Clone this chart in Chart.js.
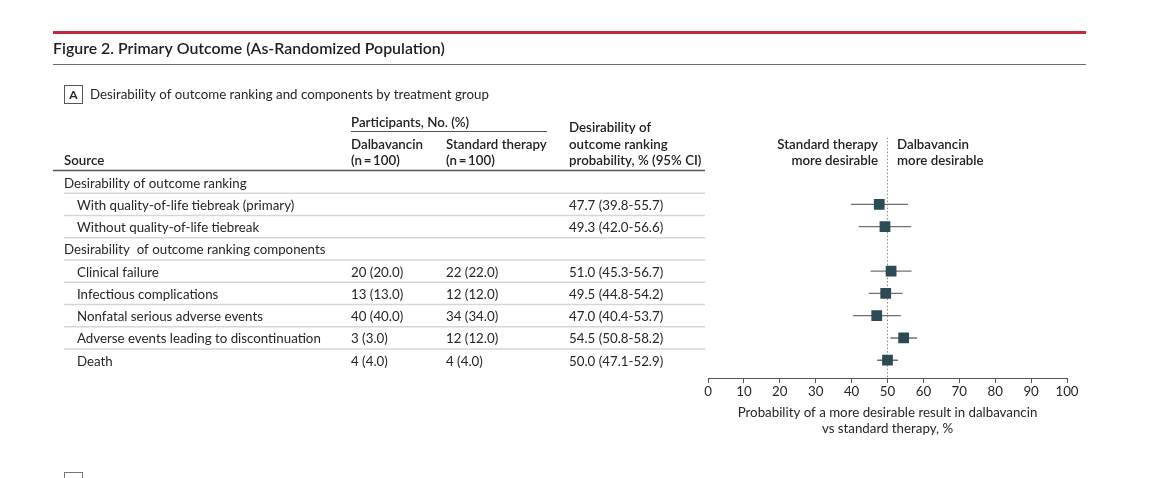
<!DOCTYPE html>
<html>
<head>
<meta charset="utf-8">
<script src="https://cdn.jsdelivr.net/npm/chart.js@4/dist/chart.umd.min.js"></script>
<style>
html,body{margin:0;padding:0;background:#fff;}
#wrap{width:1170px;height:478px;}
</style>
</head>
<body>
<div id="wrap"><canvas id="c" width="1170" height="478"></canvas></div>
<script>
// ---------- data ----------
const rowLabels = [
  'Desirability of outcome ranking',
  'With quality-of-life tiebreak (primary)',
  'Without quality-of-life tiebreak',
  'Desirability  of outcome ranking components',
  'Clinical failure',
  'Infectious complications',
  'Nonfatal serious adverse events',
  'Adverse events leading to discontinuation',
  'Death'
];
const rowIsGroup = [true, false, false, true, false, false, false, false, false];
const dalbavancinN   = [null, null, null, null, 20, 13, 40, 3, 4];
const dalbavancinPct = [null, null, null, null, 20.0, 13.0, 40.0, 3.0, 4.0];
const standardN      = [null, null, null, null, 22, 12, 34, 12, 4];
const standardPct    = [null, null, null, null, 22.0, 12.0, 34.0, 12.0, 4.0];
const estimates = [null, 47.7, 49.3, null, 51.0, 49.5, 47.0, 54.5, 50.0];
const ciLow     = [null, 39.8, 42.0, null, 45.3, 44.8, 40.4, 50.8, 47.1];
const ciHigh    = [null, 55.7, 56.6, null, 56.7, 54.2, 53.7, 58.2, 52.9];
const xTickValues = [0, 10, 20, 30, 40, 50, 60, 70, 80, 90, 100];
const referenceValue = 50;

// ---------- styles ----------
const FONT = 'Lato, "Noto Sans", sans-serif';
const TEXT = '#262626';
const MARKER = '#2c4b55';
const WHISKER = '#707070';
const BODY = 13.3;

Chart.defaults.font.family = FONT;
Chart.defaults.color = TEXT;

const datasets = [];
datasets.push({
  label: 'estimate',
  data: estimates.map((v, i) => v == null ? null : {x: v, y: i}).filter(Boolean),
  showLine: false,
  pointStyle: 'rect',
  pointRadius: 7.6,
  backgroundColor: MARKER,
  borderColor: MARKER,
  borderWidth: 0,
  order: 0
});
estimates.forEach((v, i) => {
  if (v == null) return;
  datasets.push({
    label: 'ci' + i,
    data: [{x: ciLow[i], y: i}, {x: ciHigh[i], y: i}],
    borderColor: WHISKER,
    borderWidth: 1.4,
    pointRadius: 0,
    order: 1
  });
});
datasets.push({
  label: 'reference',
  data: [{x: referenceValue, y: -2}, {x: referenceValue, y: 8.8}],
  borderColor: '#8a8a8a',
  borderWidth: 1,
  borderDash: [1.5, 2],
  pointRadius: 0,
  order: 2
});

const Y_MIN = -2, Y_MAX = 8.8;

const tablePlugin = {
  id: 'tablePlugin',
  beforeDraw(chart) {
    const ctx = chart.ctx;
    ctx.save();
    ctx.fillStyle = '#fff';
    ctx.fillRect(0, 0, chart.width, chart.height);
    ctx.restore();
  },
  afterDraw(chart) {
    const ctx = chart.ctx;
    const ys = chart.scales.y;
    const yp = i => ys.getPixelForValue(i);
    ctx.save();
    const line = (x1, y1, x2, y2, color, w) => {
      ctx.beginPath(); ctx.strokeStyle = color; ctx.lineWidth = w;
      ctx.moveTo(x1, y1); ctx.lineTo(x2, y2); ctx.stroke();
    };
    const text = (s, x, y, opt = {}) => {
      ctx.font = (opt.weight || 'normal') + ' ' + (opt.size || BODY) + 'px ' + FONT;
      ctx.fillStyle = opt.color || TEXT;
      ctx.textAlign = opt.align || 'left';
      ctx.textBaseline = 'middle';
      ctx.fillText(s, x, y + 1.2);
    };
    // top rules and title
    line(53, 32.5, 1086, 32.5, '#c8283e', 3);
    text('Figure 2. Primary Outcome (As-Randomized Population)', 53, 48, {size: 15.9, weight: '600', color: '#1e1e1e'});
    line(53, 64.5, 1086, 64.5, '#6a6a6a', 1.2);
    // panel label
    ctx.strokeStyle = '#555'; ctx.lineWidth = 1;
    ctx.strokeRect(64.5, 85.5, 18, 18);
    text('A', 73.5, 94, {size: 12, weight: 'bold', align: 'center'});
    text('Desirability of outcome ranking and components by treatment group', 90, 94, {size: BODY});
    // column headers
    const H = {size: BODY, weight: '600', color: '#222'};
    text('Participants, No. (%)', 351, 122, H);
    line(351, 131.5, 547, 131.5, '#555', 1);
    text('Dalbavancin', 351, 144, H);
    text('(n\u2009=\u2009100)', 351, 160, H);
    text('Standard therapy', 446, 144, H);
    text('(n\u2009=\u2009100)', 446, 160, H);
    text('Desirability of', 569, 127, H);
    text('outcome ranking', 569, 144, H);
    text('probability, % (95% CI)', 569, 160, H);
    text('Source', 64, 160, H);
    line(53, 170.5, 705, 170.5, '#555', 1.5);
    text('Standard therapy', 878, 144, Object.assign({align: 'right'}, H));
    text('more desirable', 878, 160, Object.assign({align: 'right'}, H));
    text('Dalbavancin', 897, 144, H);
    text('more desirable', 897, 160, H);
    // rows
    rowLabels.forEach((lab, i) => {
      const y = yp(i);
      text(lab, rowIsGroup[i] ? 64 : 77, y);
      if (dalbavancinN[i] != null) text(dalbavancinN[i] + ' (' + dalbavancinPct[i].toFixed(1) + ')', 351, y);
      if (standardN[i] != null) text(standardN[i] + ' (' + standardPct[i].toFixed(1) + ')', 446, y);
      if (estimates[i] != null) text(estimates[i].toFixed(1) + ' (' + ciLow[i].toFixed(1) + '-' + ciHigh[i].toFixed(1) + ')', 569, y);
      if (i < rowLabels.length - 1) {
        const sy = (yp(i) + yp(i + 1)) / 2;
        line(64, sy, 705, sy, '#d6d6d6', 1.5);
      }
    });
    // next panel (cut off)
    ctx.strokeStyle = '#777'; ctx.lineWidth = 1;
    ctx.strokeRect(64.5, 472.5, 18, 18);
    ctx.restore();
  }
};

new Chart(document.getElementById('c'), {
  type: 'line',
  data: {datasets},
  options: {
    responsive: false,
    animation: false,
    devicePixelRatio: 1,
    layout: {padding: {left: 708, right: 103, top: 137.6, bottom: 40}},
    plugins: {legend: {display: false}, tooltip: {enabled: false}},
    scales: {
      x: {
        type: 'linear',
        min: 0, max: 100,
        afterBuildTicks: s => { s.ticks = xTickValues.map(v => ({value: v})); },
        afterFit: s => { s.height = 60; },
        ticks: {font: {size: BODY}, color: TEXT, padding: 1, maxRotation: 0, autoSkip: false},
        grid: {display: true, drawOnChartArea: false, drawTicks: true, tickLength: 5, color: '#555', lineWidth: 1},
        border: {display: true, color: '#555', width: 1},
        title: {
          display: true,
          text: ['Probability of a more desirable result in dalbavancin', 'vs standard therapy, %'],
          font: {size: BODY}, color: TEXT, padding: {top: 2, bottom: 1}
        }
      },
      y: {
        type: 'linear', min: Y_MIN, max: Y_MAX, reverse: true, display: false
      }
    }
  },
  plugins: [tablePlugin]
});
</script>
</body>
</html>
